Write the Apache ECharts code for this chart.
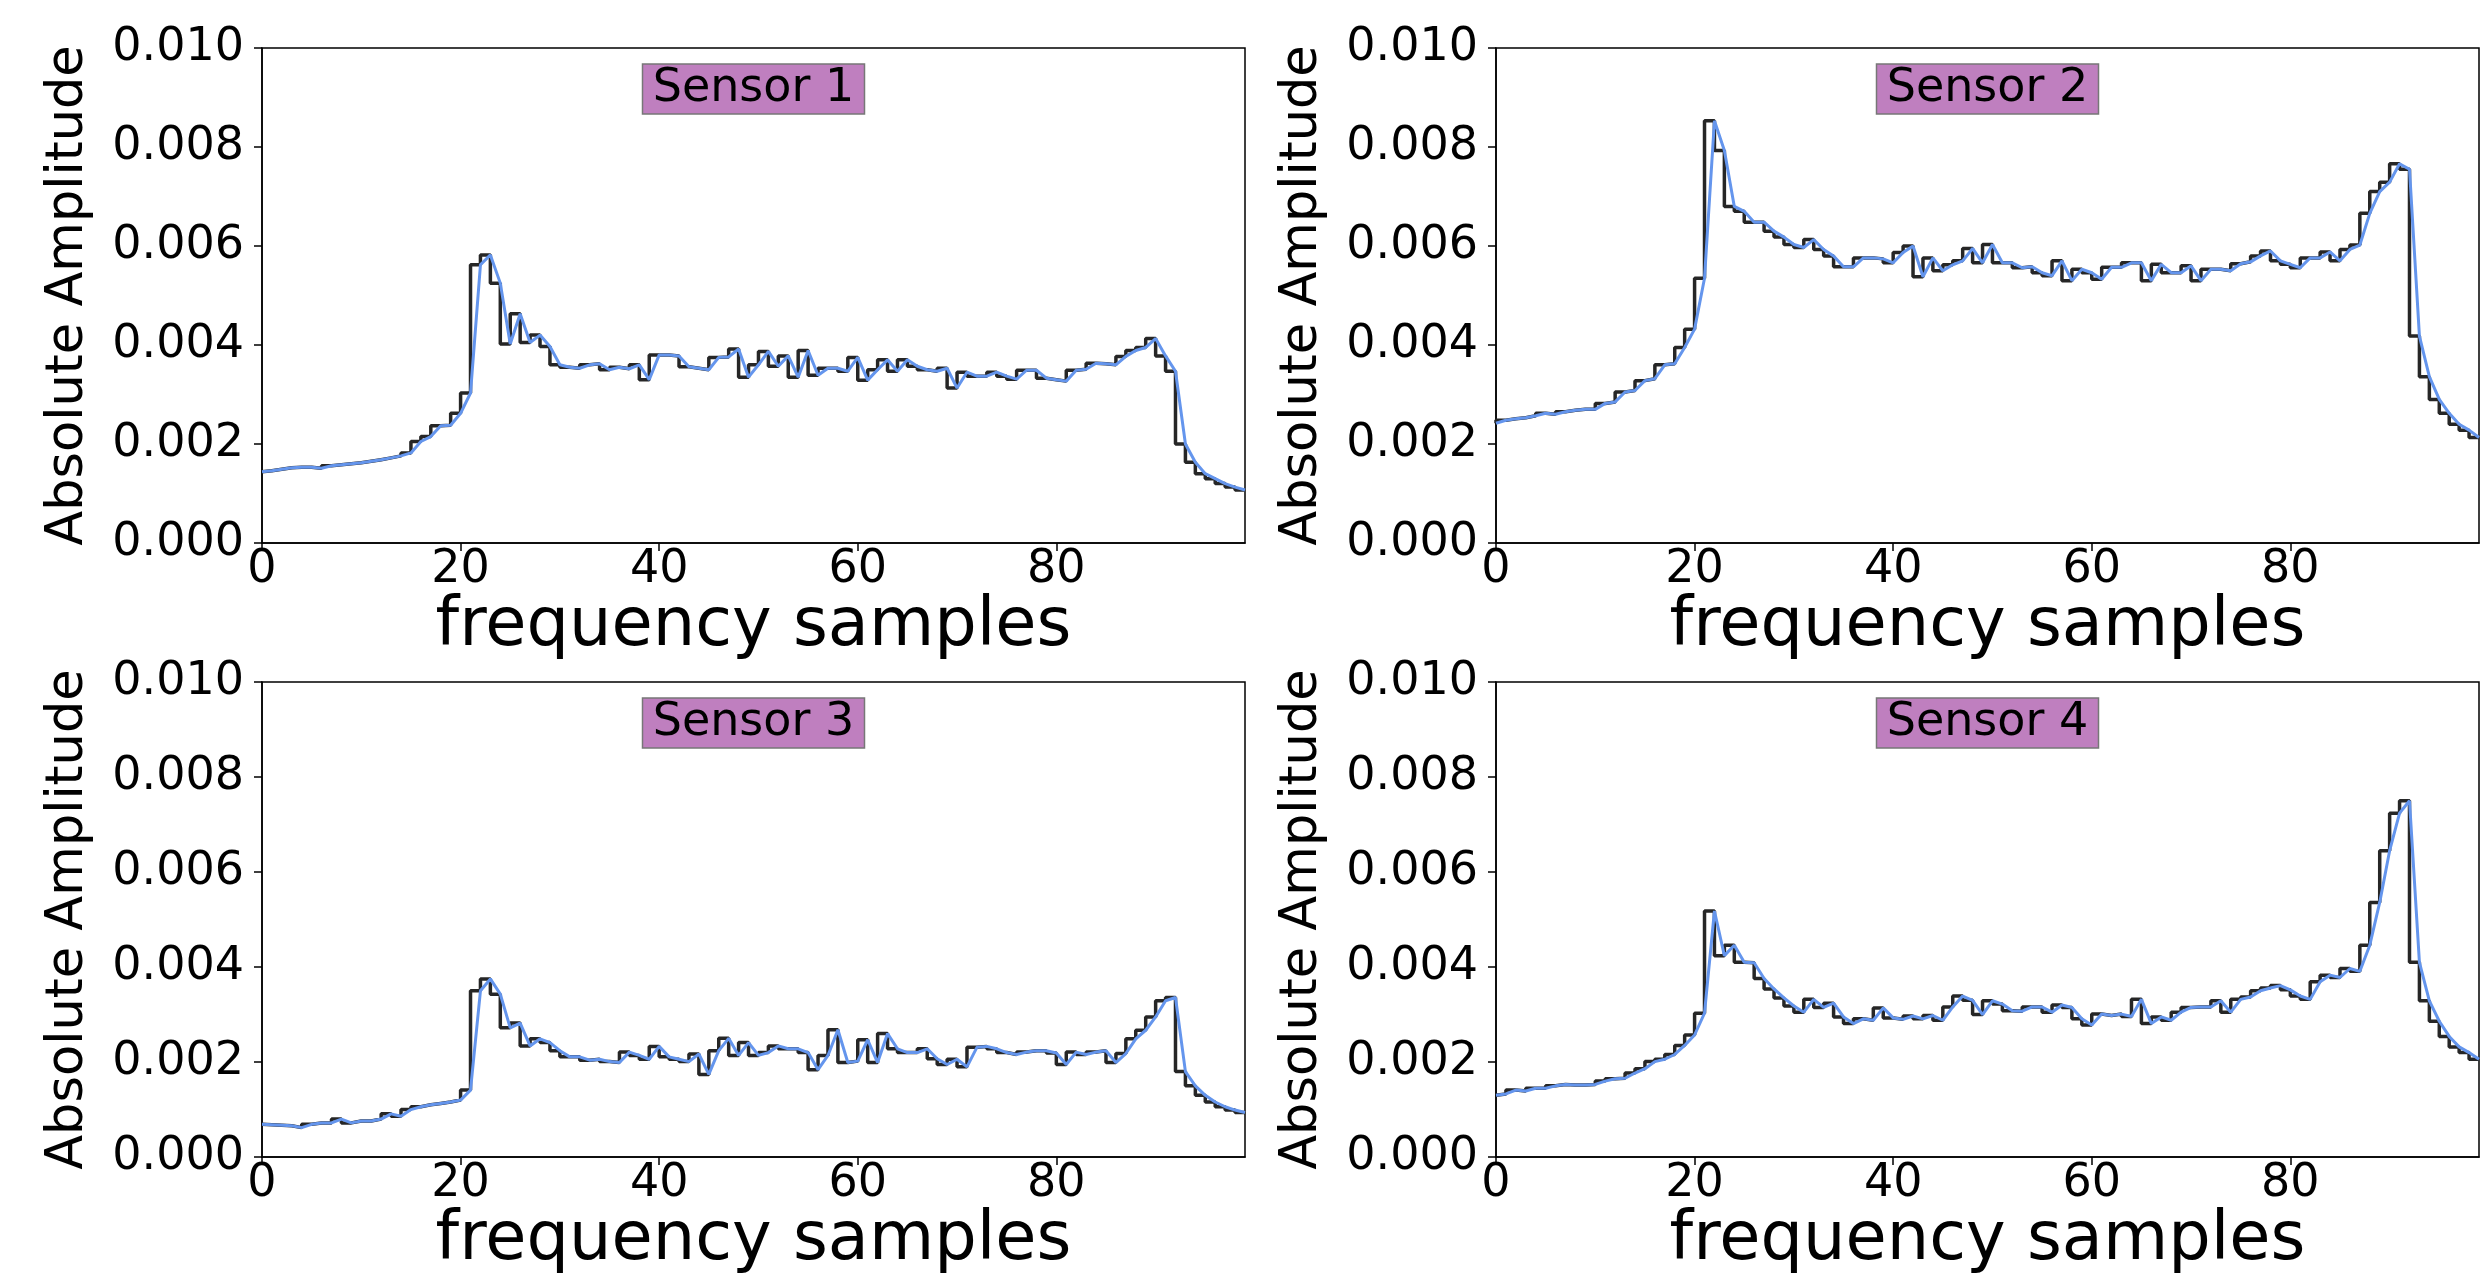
<!DOCTYPE html>
<html lang="en">
<head>
    <meta charset="UTF-8">
    <title>Sensors</title>
    <script src="https://cdn.jsdelivr.net/npm/echarts@6.0.0/dist/echarts.min.js"></script>
    <style>
        html, body { margin: 0; padding: 0; background: #fff; }
    </style>
</head>
<body>
<div id="main" style="width: 2481px;height:1276px;"></div>
<script>
    // amplitude values, in units of 1e-3, sample 0..99
    var sensor1 = [1.44,1.46,1.49,1.52,1.53,1.53,1.51,1.56,1.58,1.60,
        1.62,1.65,1.68,1.72,1.76,1.82,2.05,2.15,2.37,2.38,
        2.62,3.03,5.62,5.82,5.25,4.02,4.63,4.05,4.20,3.97,
        3.60,3.55,3.53,3.60,3.62,3.50,3.55,3.52,3.60,3.30,
        3.80,3.80,3.78,3.56,3.53,3.50,3.75,3.76,3.92,3.35,
        3.60,3.87,3.57,3.78,3.35,3.89,3.39,3.53,3.53,3.47,
        3.75,3.29,3.50,3.70,3.47,3.70,3.57,3.50,3.47,3.53,
        3.13,3.45,3.37,3.37,3.45,3.37,3.31,3.49,3.49,3.33,
        3.30,3.27,3.49,3.51,3.63,3.62,3.60,3.77,3.89,3.95,
        4.13,3.78,3.47,2.00,1.63,1.40,1.30,1.20,1.13,1.07];
    var sensor2 = [2.42,2.48,2.51,2.53,2.57,2.62,2.60,2.65,2.68,2.70,
        2.70,2.82,2.85,3.05,3.08,3.28,3.32,3.60,3.62,3.95,
        4.32,5.35,8.53,7.93,6.80,6.70,6.48,6.48,6.30,6.18,
        6.03,5.97,6.13,5.93,5.80,5.58,5.58,5.76,5.76,5.74,
        5.66,5.87,6.00,5.38,5.76,5.50,5.62,5.70,5.95,5.66,
        6.03,5.66,5.66,5.56,5.58,5.46,5.40,5.70,5.30,5.53,
        5.46,5.33,5.57,5.57,5.66,5.66,5.30,5.63,5.46,5.46,
        5.60,5.30,5.53,5.53,5.50,5.64,5.68,5.80,5.90,5.70,
        5.63,5.56,5.76,5.76,5.88,5.70,5.93,6.02,6.66,7.10,
        7.29,7.66,7.55,4.18,3.36,2.90,2.62,2.40,2.28,2.13];
    var sensor3 = [0.69,0.68,0.67,0.66,0.62,0.69,0.72,0.72,0.80,0.72,
        0.76,0.76,0.80,0.91,0.86,1.00,1.06,1.10,1.13,1.16,
        1.20,1.41,3.50,3.75,3.43,2.72,2.82,2.34,2.49,2.41,
        2.24,2.11,2.11,2.04,2.06,2.01,1.99,2.21,2.14,2.06,
        2.33,2.11,2.06,2.01,2.17,1.74,2.24,2.50,2.14,2.41,
        2.14,2.20,2.34,2.28,2.28,2.20,1.84,2.14,2.68,1.99,
        2.02,2.47,1.99,2.60,2.28,2.20,2.20,2.28,2.07,1.95,
        2.06,1.90,2.31,2.33,2.28,2.20,2.16,2.21,2.24,2.24,
        2.19,1.95,2.21,2.16,2.21,2.24,1.99,2.18,2.49,2.67,
        2.95,3.29,3.36,1.80,1.50,1.30,1.16,1.06,0.99,0.94];
    var sensor4 = [1.30,1.33,1.41,1.39,1.45,1.45,1.50,1.53,1.52,1.52,
        1.53,1.60,1.65,1.66,1.77,1.86,2.01,2.06,2.16,2.35,
        2.57,3.03,5.18,4.24,4.46,4.10,4.09,3.76,3.54,3.35,
        3.18,3.05,3.32,3.15,3.24,2.95,2.81,2.91,2.88,3.14,
        2.93,2.90,2.97,2.91,2.98,2.88,3.16,3.39,3.30,3.00,
        3.29,3.22,3.08,3.07,3.16,3.16,3.05,3.20,3.15,2.91,
        2.78,3.01,2.98,3.01,2.96,3.32,2.81,2.95,2.88,3.05,
        3.15,3.16,3.16,3.29,3.05,3.32,3.37,3.50,3.56,3.61,
        3.52,3.39,3.32,3.69,3.83,3.78,3.97,3.91,4.46,5.36,
        6.45,7.24,7.50,4.10,3.29,2.86,2.54,2.32,2.20,2.06];

    var sensorNames = ['Sensor 1', 'Sensor 2', 'Sensor 3', 'Sensor 4'];
    var allData = [sensor1, sensor2, sensor3, sensor4];

    var grids = [
        {left: 262, top: 48, width: 983, height: 495},
        {left: 1496, top: 48, width: 983, height: 495},
        {left: 262, top: 682, width: 983, height: 494},
        {left: 1496, top: 682, width: 983, height: 494}
    ];

    var font = 'DejaVu Sans';
    var option = {
        animation: false,
        backgroundColor: '#fff',
        grid: [],
        title: [],
        xAxis: [],
        yAxis: [],
        series: []
    };

    for (var k = 0; k < 4; k++) {
        var g = grids[k];
        option.grid.push({
            left: g.left, top: g.top, width: g.width, height: g.height,
            show: true, borderColor: '#000', borderWidth: 1.5, backgroundColor: 'transparent'
        });
        option.title.push({
            text: sensorNames[k],
            left: g.left + g.width / 2 - 10,
            top: g.top + 16,
            textAlign: 'center',
            backgroundColor: '#bf7fbf',
            borderColor: '#777',
            borderWidth: 1.5,
            padding: [2, 10],
            textStyle: {fontFamily: font, fontSize: 46, fontWeight: 'normal', color: '#000'}
        });
        option.xAxis.push({
            type: 'value', gridIndex: k, min: 0, max: 99, interval: 20,
            name: 'frequency samples', nameLocation: 'middle', nameGap: 37,
            nameTextStyle: {fontFamily: font, fontSize: 67, color: '#000'},
            axisLine: {show: true, lineStyle: {color: '#000', width: 1.5}},
            axisTick: {show: true, length: 8, lineStyle: {color: '#000', width: 1.5}},
            axisLabel: {fontFamily: font, fontSize: 46, color: '#000', margin: 4, showMaxLabel: false},
            splitLine: {show: false}
        });
        option.yAxis.push({
            type: 'value', gridIndex: k, min: 0, max: 0.01, interval: 0.002,
            name: 'Absolute Amplitude', nameLocation: 'middle', nameGap: 168,
            nameTextStyle: {fontFamily: font, fontSize: 51, color: '#000'},
            axisLine: {show: true, lineStyle: {color: '#000', width: 1.5}},
            axisTick: {show: true, length: 8, lineStyle: {color: '#000', width: 1.5}},
            axisLabel: {
                fontFamily: font, fontSize: 46, color: '#000', margin: 18,
                formatter: function (v) { return v.toFixed(3); }
            },
            splitLine: {show: false}
        });

        var pts = allData[k].map(function (v, i) { return [i, v / 1000]; });
        // black step trace
        option.series.push({
            type: 'line', xAxisIndex: k, yAxisIndex: k, step: 'start',
            data: pts, showSymbol: false, symbol: 'none',
            lineStyle: {color: '#262626', width: 3.5}
        });
        // blue trace
        option.series.push({
            type: 'line', xAxisIndex: k, yAxisIndex: k,
            data: pts, showSymbol: false, symbol: 'none',
            lineStyle: {color: '#6495ed', width: 3}
        });
    }

    var myChart = echarts.init(document.getElementById('main'));
    myChart.setOption(option);
</script>
</body>
</html>
